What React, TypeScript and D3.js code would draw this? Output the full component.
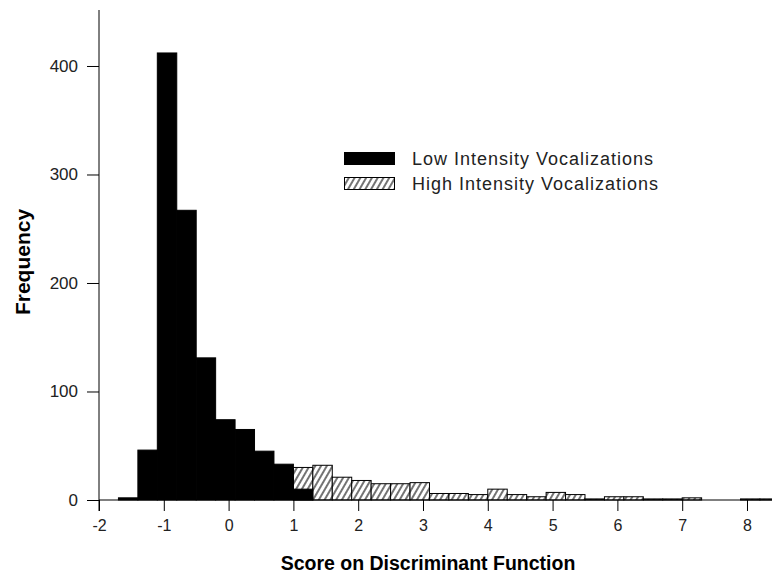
import React, { useEffect, useRef } from "react";
import * as d3 from "d3";

const binWidth = 0.3;
const lowBinStarts = [-1.7, -1.4, -1.1, -0.8, -0.5, -0.2, 0.1, 0.4, 0.7, 1.0];
const lowCounts = [2, 46, 412, 267, 131, 74, 65, 45, 33, 10];
const highBinStarts = [1.0, 1.3, 1.6, 1.9, 2.2, 2.5, 2.8, 3.1, 3.4, 3.7, 4.0, 4.3, 4.6, 4.9, 5.2, 5.5, 5.8, 6.1, 6.4, 6.7, 7.0, 7.3, 7.6, 7.9, 8.2];
const highCounts = [30, 32, 21, 18, 15, 15, 16, 6, 6, 5, 10, 5, 3, 7, 5, 1, 3, 3, 1, 1, 2, 0, 0, 1, 1];
const xTicks = [-2, -1, 0, 1, 2, 3, 4, 5, 6, 7, 8];
const yTicks = [0, 100, 200, 300, 400];
const seriesNames = ["Low Intensity Vocalizations", "High Intensity Vocalizations"];

const W = 772;
const H = 576;
const FONT = "'Liberation Sans', Arial, sans-serif";

export default function App() {
  const ref = useRef<SVGSVGElement>(null);

  useEffect(() => {
    const svg = d3.select(ref.current);
    svg.selectAll("*").remove();

    const x = d3.scaleLinear().domain([-2, 8.386]).range([99, 772]);
    const y = d3.scaleLinear().domain([0, 451.6]).range([500, 10]);

    const defs = svg.append("defs");
    const pat = defs
      .append("pattern")
      .attr("id", "hatch")
      .attr("patternUnits", "userSpaceOnUse")
      .attr("width", 5)
      .attr("height", 5)
      .attr("patternTransform", "rotate(30)");
    pat.append("rect").attr("width", 5).attr("height", 5).attr("fill", "white");
    pat
      .append("line")
      .attr("x1", 1)
      .attr("y1", 0)
      .attr("x2", 1)
      .attr("y2", 5)
      .attr("stroke", "black")
      .attr("stroke-width", 1.1);

    const high = highBinStarts.map((s, i) => ({ s, v: highCounts[i] }));
    const low = lowBinStarts.map((s, i) => ({ s, v: lowCounts[i] }));

    svg
      .append("g")
      .selectAll("rect")
      .data(high.filter((d) => d.v > 0))
      .join("rect")
      .attr("x", (d) => x(d.s))
      .attr("y", (d) => y(d.v))
      .attr("width", (d) => x(d.s + binWidth) - x(d.s))
      .attr("height", (d) => y(0) - y(d.v))
      .attr("fill", "url(#hatch)")
      .attr("stroke", "black")
      .attr("stroke-width", 1);

    svg
      .append("g")
      .selectAll("rect")
      .data(low)
      .join("rect")
      .attr("x", (d) => x(d.s))
      .attr("y", (d) => y(d.v))
      .attr("width", (d) => x(d.s + binWidth) - x(d.s))
      .attr("height", (d) => y(0) - y(d.v))
      .attr("fill", "black")
      .attr("stroke", "black")
      .attr("stroke-width", 1);

    // axes
    const xAxis = svg
      .append("g")
      .attr("transform", `translate(0,${y(0)})`)
      .call(
        d3
          .axisBottom(x)
          .tickValues(xTicks)
          .tickSize(11)
          .tickPadding(9)
          .tickFormat((d) => String(d))
      );
    xAxis.select(".domain").attr("d", `M${x(-2)},0H${W}`).attr("stroke", "black");
    xAxis.selectAll("line").attr("stroke", "black");
    xAxis
      .selectAll("text")
      .attr("font-family", FONT)
      .attr("font-size", 16)
      .attr("fill", "#222");

    const yAxis = svg
      .append("g")
      .attr("transform", `translate(${x(-2)},0)`)
      .call(
        d3
          .axisLeft(y)
          .tickValues(yTicks)
          .tickSize(12)
          .tickPadding(9)
          .tickFormat((d) => String(d))
      );
    yAxis.select(".domain").attr("d", `M0,${y(0) + 11}V10`).attr("stroke", "black");
    yAxis.selectAll("line").attr("stroke", "black");
    yAxis
      .selectAll("text")
      .attr("font-family", FONT)
      .attr("font-size", 17)
      .attr("fill", "#222");

    // titles
    svg
      .append("text")
      .attr("x", 428)
      .attr("y", 570)
      .attr("text-anchor", "middle")
      .attr("font-family", FONT)
      .attr("font-weight", "bold")
      .attr("font-size", 19.5)
      .text("Score on Discriminant Function");
    svg
      .append("text")
      .attr("transform", `translate(30,262) rotate(-90)`)
      .attr("text-anchor", "middle")
      .attr("font-family", FONT)
      .attr("font-weight", "bold")
      .attr("font-size", 21)
      .text("Frequency");

    // legend
    const leg = svg.append("g");
    leg.append("rect").attr("x", 344.5).attr("y", 152.5).attr("width", 50).attr("height", 12).attr("fill", "black").attr("stroke", "black");
    leg.append("rect").attr("x", 344.5).attr("y", 177.5).attr("width", 50).attr("height", 12).attr("fill", "url(#hatch)").attr("stroke", "black");
    leg
      .selectAll("text")
      .data(seriesNames)
      .join("text")
      .attr("x", 412)
      .attr("y", (d, i) => 165 + i * 25)
      .attr("font-family", FONT)
      .attr("font-size", 18)
      .attr("letter-spacing", 1.0)
      .attr("fill", "#222")
      .text((d) => d);
  }, []);

  return (
    <svg
      ref={ref}
      width={W}
      height={H}
      style={{ position: "absolute", left: 0, top: 0, background: "white" }}
    />
  );
}
